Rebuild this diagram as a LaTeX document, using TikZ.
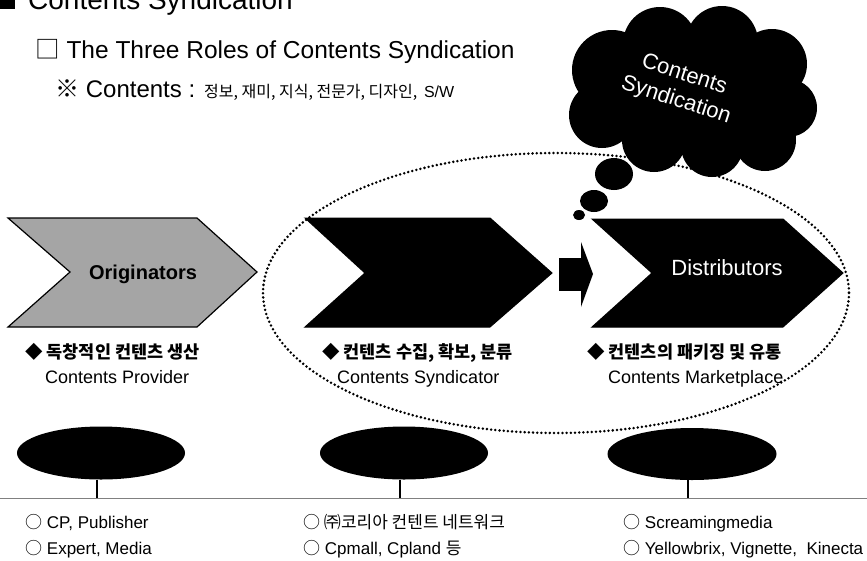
\documentclass[tikz,border=0pt]{standalone}
\usepackage{fontspec}
\setmainfont{Liberation Sans}
\newfontfamily\krfont{Noto Sans CJK KR}
\usetikzlibrary{shapes.geometric}
\newcommand{\fsz}[1]{\fontsize{#1}{#1}\selectfont}
\newcommand{\K}[1]{{\krfont #1}}
\begin{document}
\begin{tikzpicture}[x=1pt,y=-1pt,
  txt/.style={anchor=base west, inner sep=0pt},
  chevgray/.style={fill={rgb,255:red,165;green,165;blue,165}, draw=black, line width=1.2pt},
  chevblack/.style={fill=black, draw=black, line width=1pt},
  blob/.style={ellipse, fill=black, inner sep=0pt},
  dotline/.style={line width=2.8pt, line cap=round, dash pattern=on 0pt off 4.2pt},
  rolekr/.style={txt, font=\fsz{17.5}\krfont\bfseries},
  roleen/.style={txt, font=\fsz{18}},
  item/.style={txt, font=\fsz{17}}
]
\useasboundingbox (0,0) rectangle (867,560);
\fill[white] (0,0) rectangle (867,560);

% headings
\fill[black] (0,0) rectangle (15,9);
\node[txt, font=\fsz{28}] (title) at (28,9) {Contents Syndication};
\node[txt, font=\fsz{24.5}] (sub) at (35,58) {\K{□} The Three Roles of Contents Syndication};
\node[txt, font=\fsz{24}] (cont) at (55,97) {{\krfont\bfseries ※} Contents : \K{\fsz{16}정보, 재미, 지식, 전문가, 디자인,} {\fsz{16}S/W}};

% chevrons
\path[chevgray] (8,218) -- (197,218) -- (257,272) -- (197,327) -- (8,327) -- (70,272) -- cycle;
\node[font=\fsz{20}\bfseries] (orig) at (143,274) {Originators};
\path[chevblack] (305,218) -- (490,218) -- (552,273) -- (490,327) -- (305,327) -- (365,273) -- cycle;
\path[chevblack] (592,219) -- (783,219) -- (843,273) -- (783,327) -- (592,327) -- (652,273) -- cycle;
\node[font=\fsz{22}, text=white] (dist) at (727,268) {Distributors};

% small arrow
\fill[black] (559,258) rectangle (582,291);
\fill[black] (581,242) -- (593,274) -- (581,307) -- cycle;

% role labels
\node[rolekr] (k1) at (25,358) {◆ 독창적인 컨텐츠 생산};
\node[roleen] (e1) at (45,383) {Contents Provider};
\node[rolekr] (k2) at (322,358) {◆ 컨텐츠 수집, 확보, 분류};
\node[roleen] (e2) at (337,383) {Contents Syndicator};
\node[rolekr] (k3) at (587,358) {◆ 컨텐츠의 패키징 및 유통};
\node[roleen] (e3) at (608,383) {Contents Marketplace};

% dotted ellipse
\draw[dotline] (556,293) ellipse [x radius=293, y radius=140];

% cloud
\begin{scope}
\fill[black] (690,93) ellipse [x radius=100, y radius=62];
\fill[black] (612,70) circle[radius=40];
\fill[black] (602,115) circle[radius=33];
\fill[black] (660,44) circle[radius=37];
\fill[black] (722,42) circle[radius=36];
\fill[black] (772,64) circle[radius=35];
\fill[black] (788,108) circle[radius=29];
\fill[black] (765,140) circle[radius=31];
\fill[black] (712,146) circle[radius=31];
\fill[black] (654,140) circle[radius=32];
\end{scope}
\node[text=white, rotate=-18, align=center, font=\fontsize{22}{27}\selectfont] (cloudtxt) at (680,88) {Contents\\Syndication};
\fill[black] (614,174) ellipse [x radius=19, y radius=16];
\fill[black] (594,201) ellipse [x radius=14, y radius=11];
\fill[black] (579,215) ellipse [x radius=6, y radius=5];

% bottom blobs
\node[blob, minimum width=168pt, minimum height=53pt] (b1) at (101,453) {};
\node[blob, minimum width=168pt, minimum height=53pt] (b2) at (404,453) {};
\node[blob, minimum width=169pt, minimum height=52pt] (b3) at (692,454) {};
\coordinate (g1) at (97,498);
\coordinate (g2) at (400,498);
\coordinate (g3) at (688,498);
\coordinate (gl) at (0,498);
\coordinate (gr) at (867,498);
\draw[gray, line width=1pt] (gl) -- (gr);
\draw[line width=1.3pt] (b1.south -| g1) -- (g1);
\draw[line width=1.3pt] (b2.south -| g2) -- (g2);
\draw[line width=1.3pt] (b3.south -| g3) -- (g3);

% bottom items
\node[item] (i1) at (25,528) {\K{○} CP, Publisher};
\node[item] (i2) at (25,554) {\K{○} Expert, Media};
\node[item] (i3) at (303,528) {\K{○ ㈜코리아 컨텐트 네트워크}};
\node[item] (i4) at (303,554) {\K{○} Cpmall, Cpland \K{등}};
\node[item] (i5) at (623,528) {\K{○} Screamingmedia};
\node[item] (i6) at (623,554) {\K{○} Yellowbrix, Vignette,\ \ Kinecta};
\end{tikzpicture}
\end{document}
